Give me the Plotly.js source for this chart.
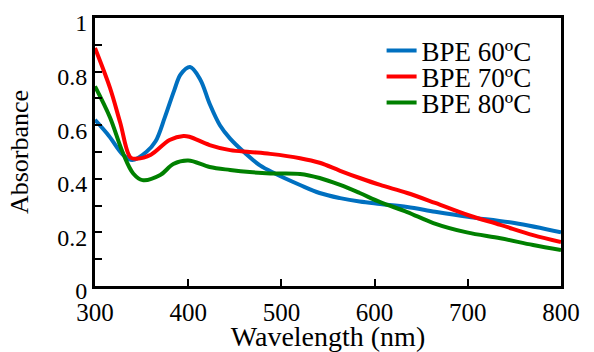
<!DOCTYPE html>
<html>
<head>
<meta charset="utf-8">
<script src="https://cdn.plot.ly/plotly-3.0.1.min.js"></script>
<style>html,body{margin:0;padding:0;background:#fff;}#chart{width:594px;height:352px;}</style>
</head>
<body>
<div id="chart"></div>
<script>
// Data
const seriesNames = ["BPE 60ºC", "BPE 70ºC", "BPE 80ºC"];
const seriesColors = ["#0070C0", "#FF0000", "#008000"];

const wl60 = [300,315,330,340,355,365,375,385,392,402,413,423,434,445,461,477,493,520,541,563,584,606,635,665,700,750,800];
const abs60 = [0.62,0.56,0.49,0.47,0.50,0.54,0.63,0.73,0.79,0.817,0.77,0.68,0.60,0.55,0.496,0.45,0.42,0.377,0.347,0.328,0.315,0.306,0.295,0.277,0.258,0.235,0.20];

const wl70 = [300,316,327,338,345,360,380,395,402,423,445,466,488,520,541,563,584,606,635,665,700,735,770,800];
const abs70 = [0.888,0.74,0.61,0.48,0.475,0.49,0.545,0.56,0.556,0.526,0.507,0.50,0.493,0.477,0.46,0.43,0.403,0.377,0.347,0.31,0.265,0.228,0.19,0.164];

const wl80 = [300,316,330,341,351,370,384,400,423,445,466,488,520,541,563,584,606,635,663,699,735,770,800];
const abs80 = [0.745,0.63,0.496,0.42,0.395,0.414,0.455,0.468,0.444,0.433,0.425,0.42,0.418,0.403,0.377,0.347,0.313,0.276,0.235,0.20,0.178,0.153,0.134];

const xTicks = [300,400,500,600,700,800];
const xTickText = ["300","400","500","600","700","800"];
const yTicks = [0,0.2,0.4,0.6,0.8,1];
const yTickText = ["0","0.2","0.4","0.6","0.8","1"];
const yMinorTicks = [0.1,0.3,0.5,0.7,0.9];

const xs = [wl60, wl70, wl80];
const ys = [abs60, abs70, abs80];
const legendIds = ["legend", "legend2", "legend3"];

const font = "Liberation Serif, Times New Roman, serif";

const traces = xs.map((x, i) => ({
  x: x, y: ys[i], type: "scatter", mode: "lines",
  name: seriesNames[i],
  line: {color: seriesColors[i], width: 4, shape: "spline", smoothing: 1},
  legend: legendIds[i], showlegend: true
}));

const legendBase = {
  xanchor: "left", yanchor: "middle",
  bgcolor: "rgba(0,0,0,0)", borderwidth: 0,
  font: {family: font, size: 27, color: "#000"}
};
const legendY = [0.877, 0.780, 0.683];

const layout = {
  width: 594, height: 352,
  margin: {l: 95, r: 33, t: 18, b: 66},
  paper_bgcolor: "#fff", plot_bgcolor: "#fff",
  font: {family: font, color: "#000"},
  xaxis: {
    range: [300, 800], tickvals: xTicks, ticktext: xTickText,
    ticks: "inside", ticklen: 7, tickwidth: 2, tickcolor: "#000",
    showline: true, linewidth: 3, linecolor: "#000", mirror: true,
    showgrid: false, zeroline: false,
    tickfont: {family: font, size: 25, color: "#000"},
    ticklabelstandoff: 2,
    title: {text: "Wavelength (nm)", font: {family: font, size: 28, color: "#000"}, standoff: 5}
  },
  yaxis: {
    range: [0, 1], tickvals: yTicks, ticktext: yTickText,
    ticks: "inside", ticklen: 7, tickwidth: 2, tickcolor: "#000",
    minor: {tickvals: yMinorTicks, ticks: "inside", ticklen: 7, tickwidth: 2, tickcolor: "#000"},
    showline: true, linewidth: 3, linecolor: "#000", mirror: true,
    showgrid: false, zeroline: false,
    tickfont: {family: font, size: 24, color: "#000"},
    ticklabelstandoff: 0, ticklabelshift: 5,
    title: {text: "Absorbance", font: {family: font, size: 26, color: "#000"}, standoff: 22}
  },
  legend: Object.assign({}, legendBase, {x: 0.615, y: legendY[0]}),
  legend2: Object.assign({}, legendBase, {x: 0.615, y: legendY[1]}),
  legend3: Object.assign({}, legendBase, {x: 0.615, y: legendY[2]})
};

Plotly.newPlot("chart", traces, layout, {displayModeBar: false, staticPlot: true});
</script>
</body>
</html>
